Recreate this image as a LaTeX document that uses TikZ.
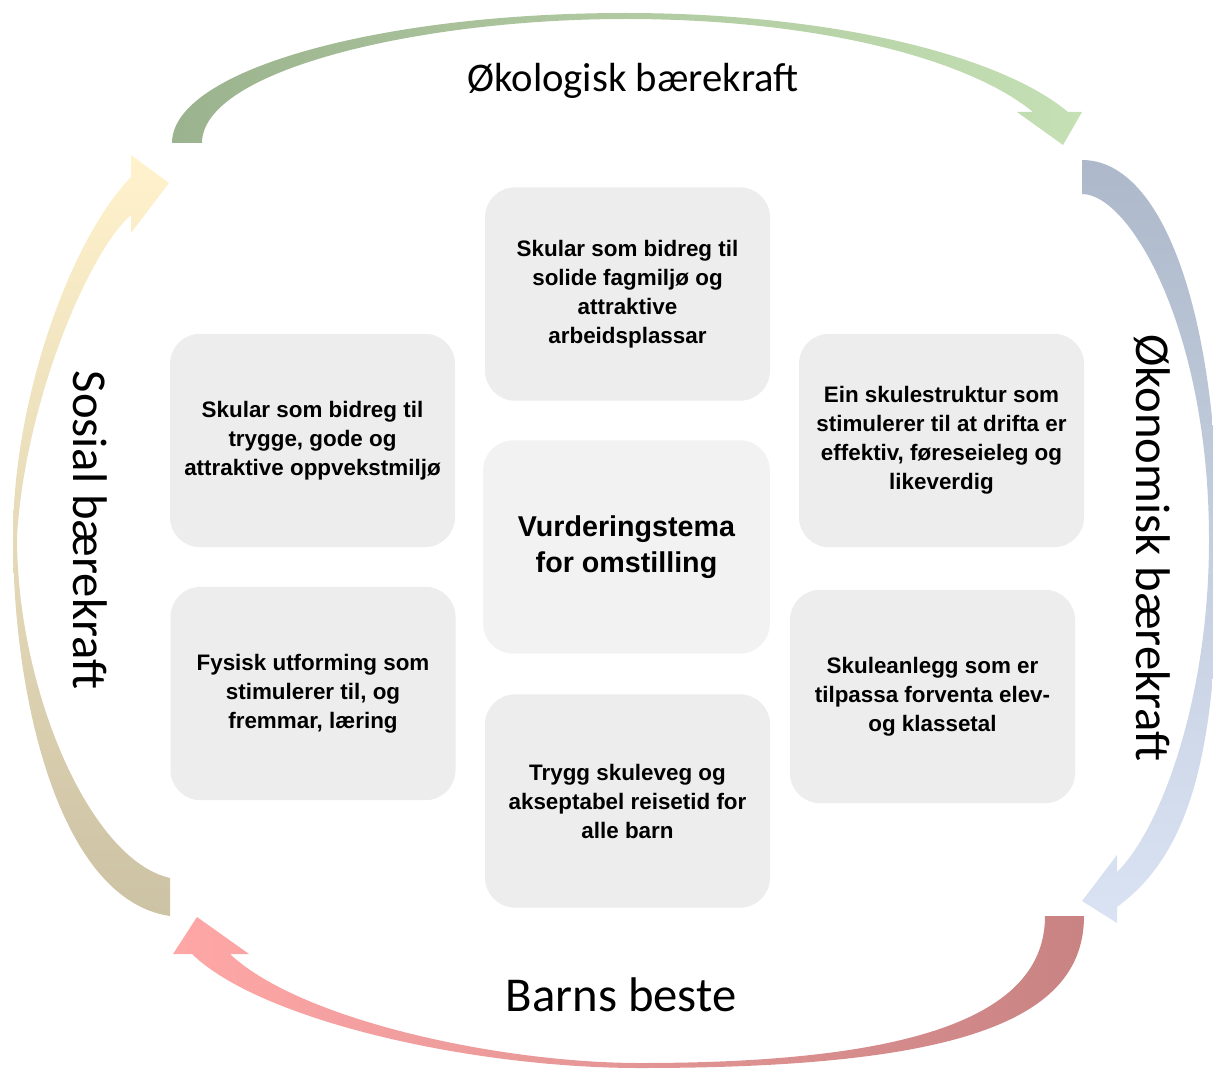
\documentclass[tikz,border=0pt]{standalone}
\usepackage{fontspec}
\setmainfont{Liberation Sans}
\newfontfamily\arcfont{Carlito}
\usepackage{tikz}
\usetikzlibrary{positioning}

\definecolor{boxgrey}{HTML}{EDEDED}
\definecolor{centregrey}{HTML}{F2F2F2}
\definecolor{greenA}{HTML}{9BB38E}
\definecolor{greenM}{HTML}{E9F2E2}
\definecolor{greenB}{HTML}{C5E0B4}
\definecolor{blueA}{HTML}{ADB9CA}
\definecolor{blueM}{HTML}{CDD6E3}
\definecolor{blueB}{HTML}{DAE3F3}
\definecolor{redA}{HTML}{C98383}
\definecolor{redM}{HTML}{F6DCDC}
\definecolor{redB}{HTML}{FFA7A7}
\definecolor{yellowA}{HTML}{CCC2A4}
\definecolor{yellowM}{HTML}{FBF3DF}
\definecolor{yellowB}{HTML}{FFF2CC}

\tikzstyle{themenode}=[shape=rectangle, rounded corners=22.5pt, fill=boxgrey, minimum width=213.75pt, minimum height=160pt, inner sep=0pt, align=center, font=\bfseries\fontsize{16.8}{21.75}\selectfont]
\tikzstyle{centrenode}=[themenode, fill=centregrey, minimum width=215pt, font=\bfseries\fontsize{21.5}{27}\selectfont]
\tikzstyle{arclabel}=[inner sep=0pt, font=\arcfont\fontsize{36.5}{40}\selectfont]

\begin{document}
\begin{tikzpicture}[x=0.75pt, y=-0.75pt]
\useasboundingbox (0,0) rectangle (1213,1070);

% arrows round the edge
\shade[left color=greenA, middle color=greenM, right color=greenB]
  (172,143) .. controls (172,70) and (380,13) .. (625,13)
  .. controls (830,13) and (1000,55) .. (1068,112)
  -- (1082,112) -- (1063,145) -- (1017,112) -- (1033,112)
  .. controls (970,60) and (820,19) .. (625,19)
  .. controls (420,19) and (202,70) .. (202,143) -- cycle;
\shade[top color=blueA, middle color=blueM, bottom color=blueB]
  (1082,160) .. controls (1165,160) and (1218,320) .. (1218,540)
  .. controls (1218,740) and (1195,850) .. (1117,907)
  -- (1117,923) -- (1082,901) -- (1117,855) -- (1117,872)
  .. controls (1160,830) and (1209,700) .. (1209,540)
  .. controls (1209,330) and (1130,194) .. (1082,194) -- cycle;
\shade[left color=redB, middle color=redM, right color=redA]
  (1084,916) .. controls (1084,1020) and (960,1068) .. (640,1068)
  .. controls (470,1068) and (260,1020) .. (192,954)
  -- (173,954) -- (197,917) -- (249,954) -- (230,954)
  .. controls (300,1020) and (500,1063) .. (640,1063)
  .. controls (930,1063) and (1045,1010) .. (1045,916) -- cycle;
\shade[top color=yellowB, middle color=yellowM, bottom color=yellowA]
  (170,916) .. controls (60,900) and (13,700) .. (13,537)
  .. controls (13,400) and (70,240) .. (131,177)
  -- (131,155) -- (169,183) -- (131,233) -- (131,215)
  .. controls (90,250) and (25,400) .. (17,537)
  .. controls (17,690) and (90,860) .. (170,878) -- cycle;

% labels on the arrows
\node [arclabel, font=\arcfont\fontsize{30.5}{36}\selectfont, anchor=base] (ecolabel) at (633,92) {Økologisk bærekraft};
\node [arclabel, rotate=-90] (econlabel) at (1152,548) {Økonomisk bærekraft};
\node [arclabel] (childlabel) at (621,995) {Barns beste};
\node [arclabel, rotate=-90] (soclabel) at (90,530) {Sosial bærekraft};

% themes
\node [centrenode] (centre) at (626.5,547) {Vurderingstema\\for omstilling};
\node [themenode] (topbox) at (627.5,294) {Skular som bidreg til\\solide fagmiljø og\\attraktive\\arbeidsplassar};
\node [themenode] (bottombox) at (627.5,801) {Trygg skuleveg og\\akseptabel reisetid for\\alle barn};
\node [themenode] (leftupper) at (312.5,440.5) {Skular som bidreg til\\trygge, gode og\\attraktive oppvekstmiljø};
\node [themenode] (leftlower) at (313,693.5) {Fysisk utforming som\\stimulerer til, og\\fremmar, læring};
\node [themenode] (rightupper) at (941.5,440.5) {Ein skulestruktur som\\stimulerer til at drifta er\\effektiv, føreseieleg og\\likeverdig};
\node [themenode] (rightlower) at (932.5,696.5) {Skuleanlegg som er\\tilpassa forventa elev-\\og klassetal};
\end{tikzpicture}
\end{document}
